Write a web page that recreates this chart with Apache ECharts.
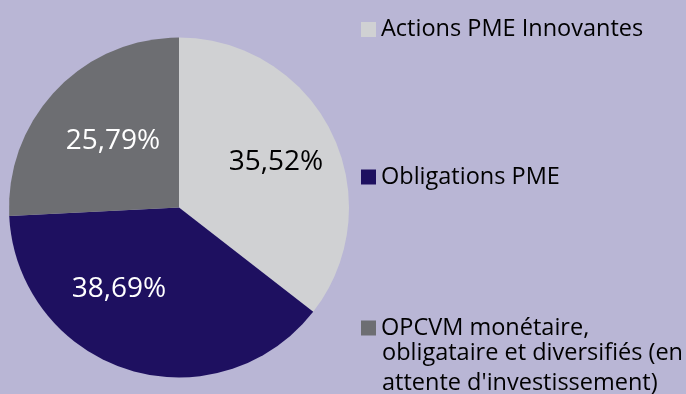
<!DOCTYPE html>
<html>
<head>
<meta charset="utf-8">
<script src="https://cdn.jsdelivr.net/npm/echarts@6/dist/echarts.min.js"></script>
<style>
html,body{margin:0;padding:0;background:#b9b6d5;}
#chart{width:686px;height:394px;}
</style>
</head>
<body>
<div id="chart"></div>
<script>
// Allocation by asset class (%)
const categories = ['Actions PME Innovantes', 'Obligations PME', 'OPCVM monétaire, obligataire et diversifiés (en attente d\'investissement)'];
const values = [35.52, 38.69, 25.79];
const colors = ['#d0d1d3', '#1e1060', '#6d6e72'];
const labelColors = ['#000000', '#ffffff', '#ffffff'];
// label anchor points inside the pie
const labelAnchors = [[276, 162], [119, 289], [113, 141]];

const FONT = '"Open Sans", sans-serif';
const LEGEND_SIZE = 23.5;
const chart = echarts.init(document.getElementById('chart'));

const legendTops = [12.5, 160, 311];
const legendFirstLines = ['Actions PME Innovantes', 'Obligations PME', 'OPCVM monétaire,'];
const legendMoreLines = ['obligataire et diversifiés (en', 'attente d\'investissement)'];

chart.setOption({
  backgroundColor: '#b9b6d5',
  animation: false,
  color: colors,
  legend: categories.map((c, i) => ({
    data: [c],
    left: 356,
    top: legendTops[i],
    icon: 'rect',
    itemWidth: 15,
    itemHeight: 15,
    formatter: () => legendFirstLines[i],
    textStyle: { fontFamily: FONT, fontSize: LEGEND_SIZE, color: '#000' }
  })),
  graphic: legendMoreLines.map((t, k) => ({
    type: 'text',
    x: 382,
    y: 353 + k * 30,
    style: { text: t, fontFamily: FONT, fontSize: LEGEND_SIZE, fill: '#000', verticalAlign: 'middle', align: 'left' }
  })),
  series: [{
    type: 'pie',
    center: [179, 207.5],
    radius: 170,
    startAngle: 90,
    clockwise: true,
    silent: true,
    itemStyle: { borderWidth: 0 },
    label: {
      show: true,
      position: 'inside',
      fontFamily: FONT,
      fontSize: 28,
      formatter: p => p.value.toFixed(2).replace('.', ',') + '%'
    },
    labelLine: { show: false },
    labelLayout: p => ({ x: labelAnchors[p.dataIndex][0], y: labelAnchors[p.dataIndex][1], align: 'center', verticalAlign: 'middle' }),
    data: categories.map((c, i) => ({
      name: c,
      value: values[i],
      itemStyle: { color: colors[i] },
      label: { color: labelColors[i] }
    }))
  }]
});
</script>
</body>
</html>
